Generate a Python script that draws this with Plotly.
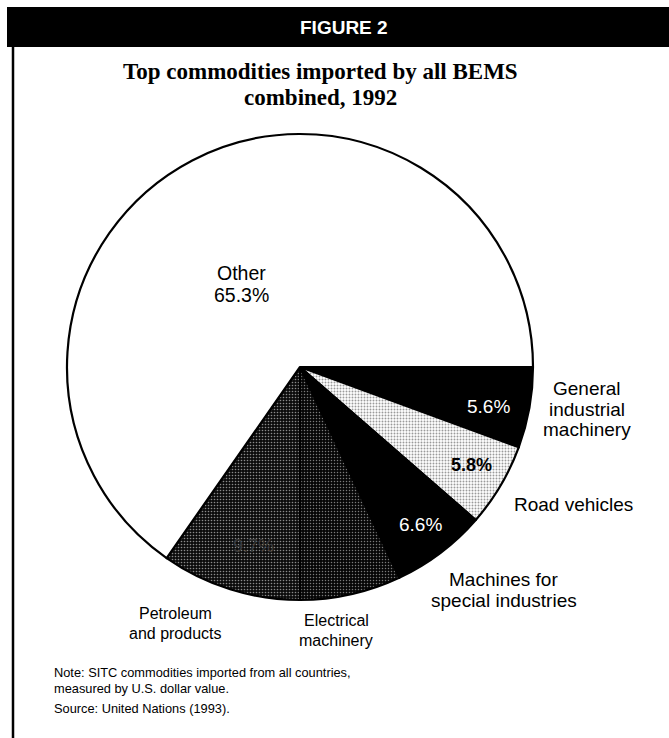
import plotly.graph_objects as go

W, H = 669, 738

categories = ["General industrial machinery", "Road vehicles",
              "Machines for special industries", "Electrical machinery",
              "Petroleum and products", "Other"]
label_lines = [["General", "industrial", "machinery"], ["Road vehicles"],
               ["Machines for", "special industries"], ["Electrical", "machinery"],
               ["Petroleum", "and products"], []]
shares = [5.6, 5.8, 6.6, 7.0, 9.7, 65.3]

# styles per slice
bg_colors = ["#000000", "#ffffff", "#000000", "#060606", "#0c0c0c", "#ffffff"]
fg_colors = ["#000000", "#9a9a9a", "#000000", "#7a7a7a", "#8a8a8a", "#ffffff"]
shapes_pat = ["", ".", "", ".", ".", ""]
solid_pat = [0.3, 0.32, 0.3, 0.2, 0.24, 0.3]


def px(x):
    return x / W


def py(y):
    return 1 - y / H


cx, cy, r = 300, 367, 233

fig = go.Figure()
fig.add_trace(go.Pie(
    labels=categories,
    values=shares,
    sort=False,
    direction="clockwise",
    rotation=90,
    textinfo="none",
    marker=dict(
        colors=bg_colors,
        line=dict(color="black", width=2.2),
        pattern=dict(shape=shapes_pat, bgcolor=bg_colors, fgcolor=fg_colors,
                     size=3, solidity=solid_pat, fillmode="replace"),
    ),
    domain=dict(x=[px(cx - r), px(cx + r)], y=[py(cy + r), py(cy - r)]),
    showlegend=False,
    hoverinfo="label+percent",
))

anns = []


def add_text(text, x, y, size, color="black", family="Liberation Sans, Arial",
             xanchor="center"):
    anns.append(dict(x=px(x), y=py(y), xref="paper", yref="paper", text=text,
                     showarrow=False, xanchor=xanchor, yanchor="middle", align="left",
                     font=dict(family=family, size=size, color=color)))


# outside category labels: (center x, first line y, line step, font size)
label_style = [(587, 388, 21, 19), (573, 504, 21, 19), (504, 579, 21, 19),
               (336, 620, 20, 16), (175, 613, 20, 16)]
for lines, (x, y0, step, size) in zip(label_lines, label_style):
    for i, line in enumerate(lines):
        add_text(line, x, y0 + i * step, size)

# inside percentage labels
pct = [f"{v:.1f}%" for v in shares]
add_text(pct[0], 488, 407, 19, "white")
add_text(f"<b>{pct[1]}</b>", 471, 465, 18, "black")
add_text(pct[2], 420, 524, 19, "white")
add_text(pct[4], 253, 546, 18, "#3a3a3a")
add_text(categories[5], 241, 273, 19.5)
add_text(pct[5], 241, 295, 19.5)

# header and title
add_text("<b>FIGURE 2</b>", 344, 27, 19, "white")
add_text("<b>Top commodities imported by all BEMS</b>", 320, 71, 23, "black",
         "Liberation Serif, Times New Roman")
add_text("<b>combined, 1992</b>", 320, 98, 23, "black",
         "Liberation Serif, Times New Roman")

# notes
add_text("Note: SITC commodities imported from all countries,", 52, 672, 12.8, xanchor="left")
add_text("measured by U.S. dollar value.", 52, 688, 12.8, xanchor="left")
add_text("Source: United Nations (1993).", 52, 708, 12.8, xanchor="left")

shapes = [
    dict(type="rect", xref="paper", yref="paper", x0=px(7), x1=1, y0=py(47), y1=py(7),
         fillcolor="black", line=dict(width=0), layer="below"),
    dict(type="line", xref="paper", yref="paper", x0=px(13), x1=px(13), y0=0, y1=py(47),
         line=dict(color="black", width=2.5)),
]

fig.update_layout(
    width=W, height=H,
    margin=dict(l=0, r=0, t=0, b=0),
    paper_bgcolor="white",
    plot_bgcolor="white",
    annotations=anns,
    shapes=shapes,
)

fig.write_html("out.html")
